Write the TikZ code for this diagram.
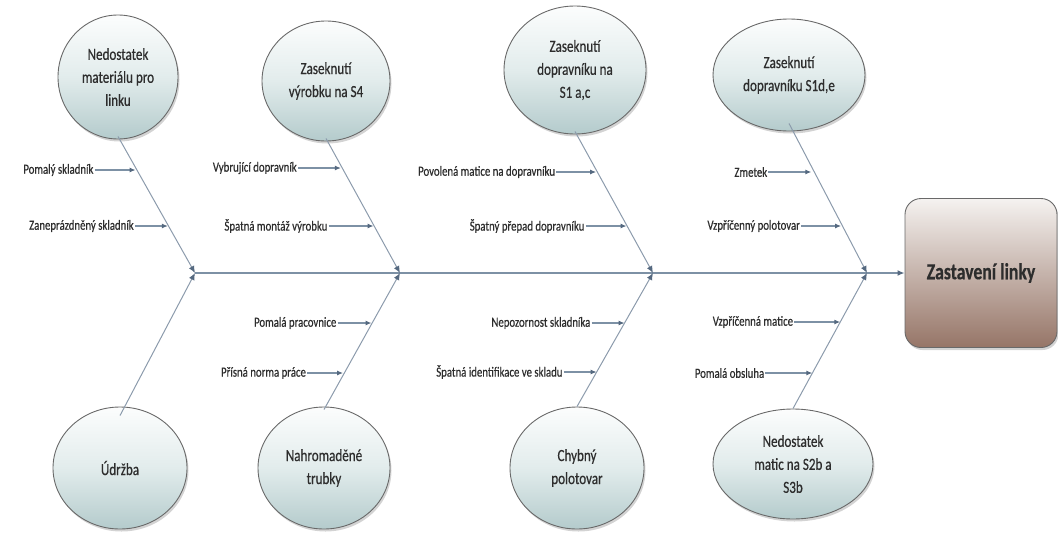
\documentclass[tikz,border=0pt]{standalone}
\usepackage{fontspec}
\setmainfont{Carlito}[FakeStretch=0.77, FakeBold=0.5]
\usetikzlibrary{arrows.meta,shadows,shapes.geometric}
\definecolor{txt}{RGB}{45,45,45}
\definecolor{spinec}{RGB}{125,145,165}
\definecolor{bonec}{RGB}{140,155,172}
\definecolor{tipc}{RGB}{85,105,128}
\definecolor{elltop}{RGB}{252,253,253}
\definecolor{ellmid}{RGB}{226,236,236}
\definecolor{ellbot}{RGB}{180,203,204}
\definecolor{boxtop}{RGB}{245,242,240}
\definecolor{boxbot}{RGB}{150,117,103}
\definecolor{edge}{RGB}{105,105,105}
\tikzset{
  cause/.style={ellipse, draw=edge, line width=0.9pt,
    top color=elltop, bottom color=ellbot, middle color=ellmid,
    drop shadow={opacity=0.35, shadow xshift=1.5pt, shadow yshift=-2.5pt},
    text=txt, align=center, font=\fontsize{17}{23}\selectfont, inner sep=0pt},
  effectbox/.style={rectangle, rounded corners=16pt, draw=edge, line width=0.9pt,
    top color=boxtop, bottom color=boxbot,
    drop shadow={opacity=0.35, shadow xshift=1.5pt, shadow yshift=-2.5pt},
    text=txt, font=\fontsize{23}{26}\selectfont\bfseries, minimum width=152pt, minimum height=149pt},
  subcause/.style={text=txt, font=\fontsize{14}{16}\selectfont, inner sep=1pt, anchor=east},
  spine/.style={draw=spinec, line width=2pt, -{Latex[length=7pt,width=6pt,color=tipc]}},
  bone/.style={draw=bonec, line width=1pt, -{Latex[length=7pt,width=6pt,color=tipc]}},
  subarrow/.style={draw=spinec, line width=1.2pt, -{Latex[length=6pt,width=5pt,color=tipc]}},
}
\begin{document}
\begin{tikzpicture}[x=1pt,y=-1pt]
\useasboundingbox (0,0) rectangle (1058,533);

% effect box
\node[effectbox] (eff) at (981,273) {Zastavení linky};

% junctions on the spine
\coordinate (j1) at (195,273);
\coordinate (j2) at (400,273);
\coordinate (j3) at (653,273);
\coordinate (j4) at (867,273);

% main causes, upper row
\node[cause, minimum width=120pt, minimum height=124pt] (t1) at (118,77) {Nedostatek\\materiálu pro\\linku};
\node[cause, minimum width=128pt, minimum height=120pt] (t2) at (326,81) {Zaseknutí\\výrobku na S4};
\node[cause, minimum width=142pt, minimum height=128pt] (t3) at (575,70) {Zaseknutí\\dopravníku na\\S1 a,c};
\node[cause, minimum width=152pt, minimum height=112pt] (t4) at (789,75) {Zaseknutí\\dopravníku S1d,e};

% main causes, lower row
\node[cause, minimum width=134pt, minimum height=122pt] (b1) at (120,468) {Údržba};
\node[cause, minimum width=132pt, minimum height=122pt] (b2) at (324,468) {Nahromaděné\\trubky};
\node[cause, minimum width=134pt, minimum height=122pt] (b3) at (577,468) {Chybný\\polotovar};
\node[cause, minimum width=160pt, minimum height=110pt] (b4) at (793,464) {Nedostatek\\matic na S2b a\\S3b};

% spine
\draw[spine] (j1) -- (eff.west);

% bones
\draw[bone] ([yshift=3pt]t1.south) -- (j1);
\draw[bone] ([yshift=3pt]t2.south) -- (j2);
\draw[bone] ([yshift=3pt]t3.south) -- (j3);
\draw[bone] ([yshift=8pt]t4.south) -- (j4);
\draw[bone] ([yshift=-9pt]b1.north) -- (j1);
\draw[bone] ([yshift=-3pt]b2.north) -- (j2);
\draw[bone] (b3.north) -- (j3);
\draw[bone] (b4.north) -- (j4);

% points where the secondary causes meet the bones
\coordinate (p11) at (intersection of j1--t1.south and 0,170--10,170);
\coordinate (p12) at (intersection of j1--t1.south and 0,226--10,226);
\coordinate (p21) at (intersection of j2--t2.south and 0,168--10,168);
\coordinate (p22) at (intersection of j2--t2.south and 0,226--10,226);
\coordinate (p31) at (intersection of j3--t3.south and 0,172--10,172);
\coordinate (p32) at (intersection of j3--t3.south and 0,226--10,226);
\coordinate (p41) at (intersection of j4--t4.south and 0,172--10,172);
\coordinate (p42) at (intersection of j4--t4.south and 0,226--10,226);
\coordinate (q21) at (intersection of j2--b2.north and 0,323--10,323);
\coordinate (q22) at (intersection of j2--b2.north and 0,373--10,373);
\coordinate (q31) at (intersection of j3--b3.north and 0,323--10,323);
\coordinate (q32) at (intersection of j3--b3.north and 0,372--10,372);
\coordinate (q41) at (intersection of j4--b4.north and 0,322--10,322);
\coordinate (q42) at (intersection of j4--b4.north and 0,373--10,373);

% secondary causes
\node[subcause] (s11) at ([xshift=-41pt]p11) {Pomalý skladník};
\node[subcause] (s12) at ([xshift=-33pt]p12) {Zaneprázdněný skladník};
\node[subcause] (s21) at ([xshift=-43pt]p21) {Vybrující dopravník};
\node[subcause] (s22) at ([xshift=-45pt]p22) {Špatná montáž výrobku};
\node[subcause] (s31) at ([xshift=-40pt]p31) {Povolená matice na dopravníku};
\node[subcause] (s32) at ([xshift=-41pt]p32) {Špatný přepad dopravníku};
\node[subcause] (s41) at ([xshift=-43pt]p41) {Zmetek};
\node[subcause] (s42) at ([xshift=-40pt]p42) {Vzpříčenný polotovar};
\node[subcause] (r21) at ([xshift=-34pt]q21) {Pomalá pracovnice};
\node[subcause] (r22) at ([xshift=-36pt]q22) {Přísná norma práce};
\node[subcause] (r31) at ([xshift=-33pt]q31) {Nepozornost skladníka};
\node[subcause] (r32) at ([xshift=-33pt]q32) {Špatná identifikace ve skladu};
\node[subcause] (r41) at ([xshift=-46pt]q41) {Vzpříčenná matice};
\node[subcause] (r42) at ([xshift=-47pt]q42) {Pomalá obsluha};

\foreach \s/\p in {s11/p11,s12/p12,s21/p21,s22/p22,s31/p31,s32/p32,s41/p41,s42/p42,
                   r21/q21,r22/q22,r31/q31,r32/q32,r41/q41,r42/q42}
  \draw[subarrow] (\s.east) -- (\p);
\end{tikzpicture}
\end{document}
